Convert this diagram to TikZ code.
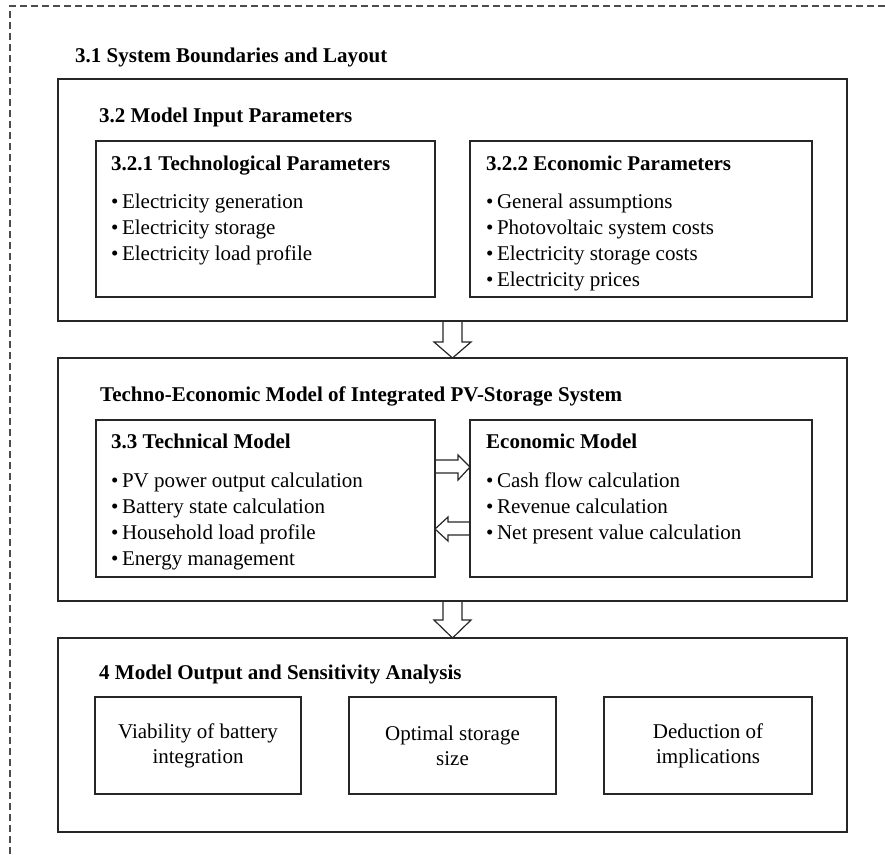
\documentclass[tikz,border=0pt]{standalone}
\usepackage{fontspec}
\setmainfont{Liberation Serif}
\usetikzlibrary{calc}

\tikzset{
    frame/.style={draw=black!85, line width=1.3pt, inner sep=0pt, outer sep=0pt,
        anchor=north west, font=\fontsize{21}{25}\selectfont, align=center},
    heading/.style={anchor=base west, inner sep=0pt, font=\bfseries\fontsize{21}{25}\selectfont},
    item/.style={anchor=base west, inner sep=0pt, font=\fontsize{21}{25}\selectfont},
    blockarrow/.style={draw=black!85, line width=1.2pt, line join=miter},
}

\begin{document}
\begin{tikzpicture}[x=1pt, y=-1pt]

    \useasboundingbox (0,0) rectangle (885,854);
    \draw[black!70, line width=1.2pt, dash pattern=on 7pt off 4pt]
        (885,6) -- (10,6) -- (10,854);
    \node[heading] (layout) at (75,62) {3.1 System Boundaries and Layout};

    \node[frame, minimum width=789, minimum height=242] (input) at (58,79) {};
    \node[heading] (inputtitle) at (99,122) {3.2 Model Input Parameters};
    \node[frame, minimum width=339, minimum height=156] (techpar) at (96,141) {};
    \node[heading] (techpartitle) at (111,170) {3.2.1 Technological Parameters};
    \node[frame, minimum width=342, minimum height=156] (econpar) at (470,141) {};
    \node[heading] (econpartitle) at (486,170) {3.2.2 Economic Parameters};
    \foreach \txt [count=\i] in {Electricity generation, Electricity storage,
            Electricity load profile}
        \node[item] (techpar\i) at (111,{208+26*(\i-1)}) {\textbullet\,\txt};
    \foreach \txt [count=\i] in {General assumptions, Photovoltaic system costs,
            Electricity storage costs, Electricity prices}
        \node[item] (econpar\i) at (486,{208+26*(\i-1)}) {\textbullet\,\txt};

    \node[frame, minimum width=789, minimum height=243] (model) at (58,358) {};
    \node[heading] (modeltitle) at (100,401)
        {Techno-Economic Model of Integrated PV-Storage System};
    \node[frame, minimum width=339, minimum height=157] (techmod) at (96,420) {};
    \node[heading] (techmodtitle) at (111,448) {3.3 Technical Model};
    \node[frame, minimum width=342, minimum height=157] (econmod) at (470,420) {};
    \node[heading] (econmodtitle) at (486,448) {Economic Model};
    \foreach \txt [count=\i] in {PV power output calculation, Battery state calculation,
            Household load profile, Energy management}
        \node[item] (techmod\i) at (111,{487+26*(\i-1)}) {\textbullet\,\txt};
    \foreach \txt [count=\i] in {Cash flow calculation, Revenue calculation,
            Net present value calculation}
        \node[item] (econmod\i) at (486,{487+26*(\i-1)}) {\textbullet\,\txt};

    \node[frame, minimum width=789, minimum height=194] (output) at (58,638) {};
    \node[heading] (outputtitle) at (99,679) {4 Model Output and Sensitivity Analysis};
    \node[frame, minimum width=206, minimum height=97] (viab) at (95,697)
        {Viability of battery\\integration};
    \node[frame, minimum width=207, minimum height=97] (optim) at (349,697)
        {Optimal storage\\size};
    \node[frame, minimum width=208, minimum height=97] (deduc) at (604,697)
        {Deduction of\\implications};

    \draw[blockarrow] ($(input.south)+(-9.5,0)$) -- ++(0,21) -- ++(-9,0)
        -- (model.north) -- ++(18.5,-16) -- ++(-9,0) -- ($(input.south)+(9.5,0)$);
    \draw[blockarrow] ($(model.south)+(-9.5,0)$) -- ++(0,19) -- ++(-9,0)
        -- (output.north) -- ++(18.5,-18) -- ++(-9,0) -- ($(model.south)+(9.5,0)$);
    \draw[blockarrow] (techmod.east |- 0,460) -- ++(23,0) -- ++(0,-5)
        -- (econmod.west |- 0,467) -- ++(-12,13) -- ++(0,-7) -- (techmod.east |- 0,473);
    \draw[blockarrow] (econmod.west |- 0,522) -- ++(-22,0) -- ++(0,-5)
        -- (techmod.east |- 0,529) -- ++(13,12) -- ++(0,-6) -- (econmod.west |- 0,535);

\end{tikzpicture}
\end{document}
